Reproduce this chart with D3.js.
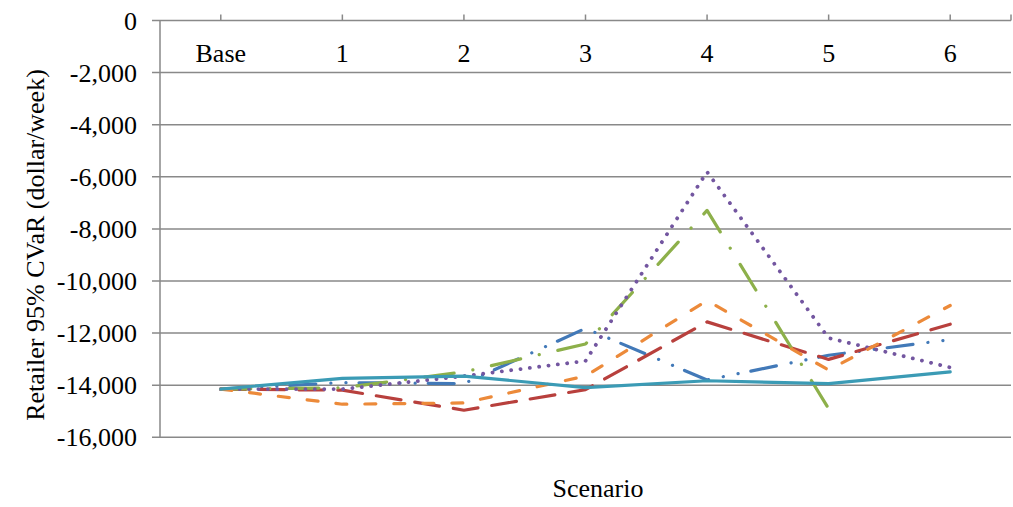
<!DOCTYPE html>
<html><head><meta charset="utf-8">
<script src="https://cdn.jsdelivr.net/npm/d3@7"></script>
<style>body{margin:0;background:#fff}svg{display:block}text{font-family:"Liberation Serif","Times New Roman",serif;fill:#000}</style>
</head><body>
<svg id="c" width="1013" height="507"></svg>
<script>
const categories = ["Base","1","2","3","4","5","6"];
const yTicks = [0,-2000,-4000,-6000,-8000,-10000,-12000,-14000,-16000];
const blueVals   = [-14150,-13900,-13940,-11820,-13800,-12850,-12250];
const redVals    = [-14150,-14190,-14960,-14170,-11570,-13010,-11660];
const greenVals  = [-14150,-14100,-13490,-12420,-7290,-14900,null];
const purpleVals = [-14150,-14150,-13650,-13070,-5810,-12190,-13320];
const orangeVals = [-14150,-14730,-14680,-13650,-10750,-13420,-10940];
const tealVals   = [-14150,-13740,-13650,-14090,-13830,-13940,-13490];

const series = [
  {v: blueVals,   color:"#4279B8", dash:"26,15,0.1,15,0.1,13"},
  {v: redVals,    color:"#B8403D", dash:"25,14"},
  {v: greenVals,  color:"#8DB04A", dash:"30,19,0.1,19"},
  {v: purpleVals, color:"#7356A0", dash:"0.1,9.3", w:3.8},
  {v: orangeVals, color:"#EC8A3A", dash:"11,18"},
  {v: tealVals,   color:"#3B9BB5", dash:null}
];

const svg = d3.select("#c");
const L = 160, R = 1011, T = 20.5, B = 437.3;
const x = d3.scaleBand().domain(categories).range([L,R]).padding(0);
const y = d3.scaleLinear().domain([-16000,0]).range([B,T]);
const cx = d => x(d) + x.bandwidth()/2;
const fs = 26;
const gridColor = "#898989";

// gridlines
svg.append("g").selectAll("line").data(yTicks).join("line")
  .attr("x1", L-8).attr("x2", R)
  .attr("y1", d=>y(d)).attr("y2", d=>y(d))
  .attr("stroke", gridColor).attr("stroke-width", 1.5);
// y axis line
svg.append("line").attr("x1",L).attr("x2",L).attr("y1",T).attr("y2",B)
  .attr("stroke",gridColor).attr("stroke-width",1.5);
// top axis ticks
svg.append("g").selectAll("line").data(categories).join("line")
  .attr("x1", d=>cx(d)).attr("x2", d=>cx(d)).attr("y1", T).attr("y2", T-6)
  .attr("stroke", gridColor).attr("stroke-width", 1.5);
svg.append("line").attr("x1",R).attr("x2",R).attr("y1",T).attr("y2",T-6)
  .attr("stroke",gridColor).attr("stroke-width",1.5);

// y tick labels
const fmt = d3.format(",");
svg.append("g").selectAll("text").data(yTicks).join("text")
  .attr("x", 137).attr("y", d=>y(d)+9)
  .attr("text-anchor","end").attr("font-size",fs)
  .text(d => d===0 ? "0" : "-" + fmt(Math.abs(d)));

// category labels
svg.append("g").selectAll("text").data(categories).join("text")
  .attr("x", d=>cx(d)).attr("y", 62)
  .attr("text-anchor","middle").attr("font-size",fs)
  .text(d=>d);

// axis titles
svg.append("text").attr("x",598).attr("y",497).attr("text-anchor","middle")
  .attr("font-size",fs).text("Scenario");
svg.append("text").attr("transform","translate(44,245) rotate(-90)")
  .attr("text-anchor","middle").attr("font-size",fs)
  .text("Retailer 95% CVaR (dollar/week)");

// series lines
const line = d3.line().defined(d=>d.v!==null).x(d=>cx(d.c)).y(d=>y(d.v));
series.forEach(s=>{
  const pts = categories.map((c,i)=>({c, v:s.v[i]}));
  svg.append("path").datum(pts).attr("d", line)
    .attr("fill","none").attr("stroke", s.color).attr("stroke-width", s.w||3.2)
    .attr("stroke-linecap","round").attr("stroke-linejoin","round")
    .attr("stroke-dasharray", s.dash);
});
</script>
</body></html>
